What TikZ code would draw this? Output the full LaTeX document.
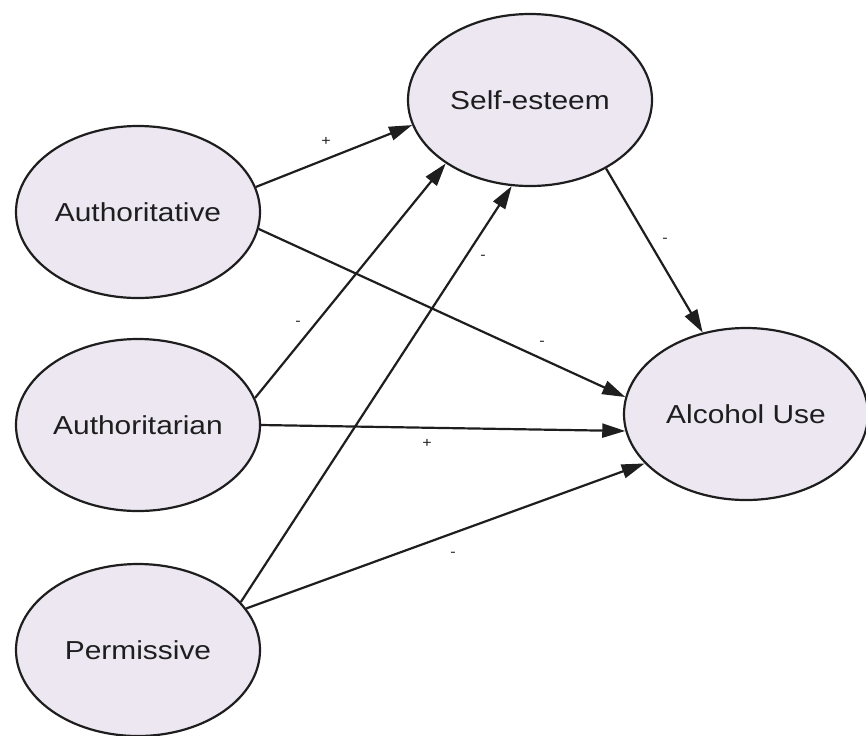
\documentclass[tikz,border=0pt]{standalone}
\usepackage{fontspec}
\setmainfont{Liberation Sans}[FakeStretch=1.15]
\usepackage{xcolor}
\usetikzlibrary{shapes.geometric,arrows.meta}
\definecolor{nodefill}{RGB}{237,231,242}
\definecolor{inkgray}{RGB}{30,30,30}

\begin{document}
\begin{tikzpicture}[x=0.5pt,y=-0.5pt,
  latent/.style={ellipse,draw=inkgray,line width=1.1pt,fill=nodefill,
    minimum width=122pt,minimum height=86pt,inner sep=0pt,
    text=inkgray,font=\fontsize{13}{15}\selectfont},
  effect/.style={-{Triangle[length=11.5pt,width=7pt]},line width=1.1pt,draw=inkgray},
  sign/.style={font=\fontsize{7}{8}\selectfont,inner sep=0pt,text=inkgray}]
\useasboundingbox (0,0) rectangle (866,735);
%% latent variables
\node[latent] (auth) at (138,212) {Authoritative};
\node[latent] (autr) at (138,425) {Authoritarian};
\node[latent] (perm) at (138,650) {Permissive};
\node[latent] (self) at (530,100) {Self-esteem};
\node[latent] (alc) at (746,414) {Alcohol Use};
%% paths
\draw[effect] (auth.12) -- (self.192);
\draw[effect] (auth.-8) -- (alc.172);
\draw[effect] (autr.13) -- (self.217);
\draw[effect] (autr.0) -- (alc.188);
\draw[effect] (perm.25) -- (self.258);
\draw[effect] (perm.21) -- (alc.206);
\draw[effect] (self.-42) -- (alc.118);
%% signs
\node[sign] (s1) at (326,141) {+};
\node[sign] (s2) at (542,343) {-};
\node[sign] (s3) at (298,323) {-};
\node[sign] (s4) at (427,443) {+};
\node[sign] (s5) at (483,257) {-};
\node[sign] (s6) at (453,554) {-};
\node[sign] (s7) at (665,240) {-};
\end{tikzpicture}
\end{document}
